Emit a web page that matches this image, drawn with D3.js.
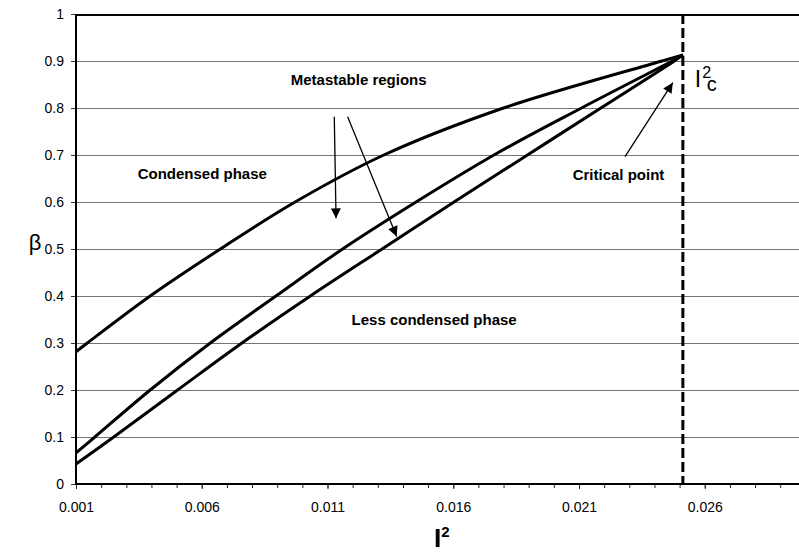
<!DOCTYPE html>
<html>
<head>
<meta charset="utf-8">
<script src="https://cdn.jsdelivr.net/npm/d3@7"></script>
<style>
  html, body { margin: 0; padding: 0; background: #fff; }
  svg { display: block; font-family: "Liberation Sans", Arial, Helvetica, sans-serif; }
</style>
</head>
<body>
<svg id="chart" width="799" height="552"></svg>
<script>
// Phase boundaries: beta as a function of I^2
const upperI2   = [0.001, 0.00145, 0.00395, 0.00674, 0.00971, 0.01324, 0.0180, 0.0243, 0.02513];
const upperBeta = [0.2815, 0.3, 0.4, 0.5, 0.6, 0.7, 0.8, 0.9, 0.913];

const middleI2   = [0.001, 0.00175, 0.00395, 0.00634, 0.00895, 0.0116, 0.01452, 0.01762, 0.0211, 0.0247, 0.02513];
const middleBeta = [0.066, 0.1, 0.2, 0.3, 0.4, 0.5, 0.6, 0.7, 0.8, 0.9, 0.913];

const lowerI2   = [0.001, 0.0025, 0.00504, 0.0076, 0.01032, 0.01317, 0.01603, 0.01895, 0.02187, 0.02479, 0.02513];
const lowerBeta = [0.0426, 0.1, 0.2, 0.3, 0.4, 0.5, 0.6, 0.7, 0.8, 0.9, 0.913];

// Critical point
const criticalI2 = 0.02513;
const criticalBeta = 0.913;

// Axis ticks
const xLabelTicks = [0.001, 0.006, 0.011, 0.016, 0.021, 0.026];
const xLabelText  = ["0.001", "0.006", "0.011", "0.016", "0.021", "0.026"];
const xMinorTicks = [0.001, 0.002, 0.003, 0.004, 0.005, 0.006, 0.007, 0.008, 0.009, 0.010,
                     0.011, 0.012, 0.013, 0.014, 0.015, 0.016, 0.017, 0.018, 0.019, 0.020,
                     0.021, 0.022, 0.023, 0.024, 0.025, 0.026, 0.027, 0.028, 0.029];
const yTicks     = [0, 0.1, 0.2, 0.3, 0.4, 0.5, 0.6, 0.7, 0.8, 0.9, 1];
const yTickLabel = ["0", "0.1", "0.2", "0.3", "0.4", "0.5", "0.6", "0.7", "0.8", "0.9", "1"];
const gridValues = [0.1, 0.2, 0.3, 0.4, 0.5, 0.6, 0.7, 0.8, 0.9];

// Region labels and arrows (anchored in data units)
const regionLabels = [
  { text: "Metastable regions",   i2: 0.01224, beta: 0.849 },
  { text: "Condensed phase",      i2: 0.00602, beta: 0.649 },
  { text: "Critical point",       i2: 0.02257, beta: 0.647 },
  { text: "Less condensed phase", i2: 0.01524, beta: 0.338 }
];
const arrows = [
  { from: [0.01127, 0.7815], to: [0.01134, 0.5653] },
  { from: [0.01180, 0.7815], to: [0.01375, 0.5266] },
  { from: [0.02283, 0.6964], to: [0.02473, 0.8538] }
];

const svg = d3.select("#chart");
const plotLeft = 76, plotTop = 14, plotBottom = 484;

const x = d3.scaleLinear().domain([0.001, 0.030]).range([plotLeft, plotLeft + 29 * 25.15]);
const y = d3.scaleLinear().domain([0, 1]).range([plotBottom, plotTop]);
const xEnd = x.range()[1];

// arrowhead
svg.append("defs").append("marker")
  .attr("id", "head")
  .attr("viewBox", "0 0 10 10")
  .attr("refX", 10).attr("refY", 5)
  .attr("markerUnits", "userSpaceOnUse")
  .attr("markerWidth", 11).attr("markerHeight", 10)
  .attr("orient", "auto")
  .append("path").attr("d", "M0,0 L10,5 L0,10 Z").attr("fill", "#000");

// horizontal gridlines
svg.append("g").selectAll("line").data(gridValues).join("line")
  .attr("x1", plotLeft).attr("x2", xEnd)
  .attr("y1", d => Math.round(y(d)) + 0.5).attr("y2", d => Math.round(y(d)) + 0.5)
  .attr("stroke", "#747474").attr("stroke-width", 1);

// y axis
const yAxis = svg.append("g").attr("transform", `translate(${plotLeft},0)`)
  .call(d3.axisLeft(y).tickValues(yTicks).tickFormat((d, i) => yTickLabel[i])
        .tickSize(5).tickPadding(7));
yAxis.select(".domain").remove();
yAxis.selectAll("line").attr("stroke", "#333");
yAxis.selectAll("text").attr("font-size", 14).attr("fill", "#000")
  .attr("font-family", "'Liberation Sans', Arial, sans-serif");

// x axis: minor ticks
const xMinor = svg.append("g").attr("transform", `translate(0,${plotBottom})`)
  .call(d3.axisBottom(x).tickValues(xMinorTicks).tickFormat("").tickSize(4));
xMinor.select(".domain").remove();
xMinor.selectAll("line").attr("stroke", "#222");

// x axis: labelled ticks
const xAxis = svg.append("g").attr("transform", `translate(0,${plotBottom})`)
  .call(d3.axisBottom(x).tickValues(xLabelTicks).tickFormat((d, i) => xLabelText[i])
        .tickSize(5).tickPadding(13));
xAxis.select(".domain").remove();
xAxis.selectAll("line").attr("stroke", "#222");
xAxis.selectAll("text").attr("font-size", 14).attr("fill", "#000")
  .attr("font-family", "'Liberation Sans', Arial, sans-serif");

// plot frame: top border, left and bottom axis lines
svg.append("line").attr("x1", plotLeft - 1).attr("x2", xEnd).attr("y1", plotTop + 1).attr("y2", plotTop + 1)
  .attr("stroke", "#000").attr("stroke-width", 2);
svg.append("line").attr("x1", plotLeft).attr("x2", plotLeft).attr("y1", plotTop).attr("y2", plotBottom + 1)
  .attr("stroke", "#000").attr("stroke-width", 2);
svg.append("line").attr("x1", plotLeft - 1).attr("x2", xEnd).attr("y1", plotBottom).attr("y2", plotBottom)
  .attr("stroke", "#000").attr("stroke-width", 2);

// critical I^2 dashed line
svg.append("line")
  .attr("x1", x(criticalI2)).attr("x2", x(criticalI2))
  .attr("y1", plotTop).attr("y2", plotBottom)
  .attr("stroke", "#000").attr("stroke-width", 3)
  .attr("stroke-dasharray", "10,4");

// phase boundary curves
const line = d3.line().x(d => x(d[0])).y(d => y(d[1])).curve(d3.curveCatmullRom.alpha(0.5));
const curves = [
  d3.zip(upperI2, upperBeta),
  d3.zip(middleI2, middleBeta),
  d3.zip(lowerI2, lowerBeta)
];
svg.append("g").selectAll("path").data(curves).join("path")
  .attr("d", line)
  .attr("fill", "none").attr("stroke", "#000").attr("stroke-width", 3)
  .attr("stroke-linejoin", "round");

// arrows
svg.append("g").selectAll("line").data(arrows).join("line")
  .attr("x1", d => x(d.from[0])).attr("y1", d => y(d.from[1]))
  .attr("x2", d => x(d.to[0])).attr("y2", d => y(d.to[1]))
  .attr("stroke", "#000").attr("stroke-width", 1.3)
  .attr("marker-end", "url(#head)");

// region labels
svg.append("g").selectAll("text").data(regionLabels).join("text")
  .attr("x", d => x(d.i2)).attr("y", d => y(d.beta))
  .attr("text-anchor", "middle")
  .attr("font-size", 15).attr("font-weight", "bold").attr("fill", "#000")
  .text(d => d.text);

// I^2_c label beside the dashed line (superscript 2 stacked over subscript c)
const cl = svg.append("text")
  .attr("x", x(criticalI2) + 12).attr("y", y(criticalBeta) + 32);
cl.append("tspan").attr("font-size", 23).text("I");
cl.append("tspan").attr("font-size", 16).attr("dx", 1).attr("dy", -9).text("2");
cl.append("tspan").attr("font-size", 20).attr("dx", -4.5).attr("dy", 13.5).text("c");

// axis titles
svg.append("text").attr("x", 35).attr("y", 250).attr("text-anchor", "middle")
  .attr("font-size", 22).text("β");
const xt = svg.append("text").attr("x", 434).attr("y", 547).attr("font-weight", "bold");
xt.append("tspan").attr("font-size", 26).text("I");
xt.append("tspan").attr("font-size", 15).attr("dy", -10).text("2");
</script>
</body>
</html>
